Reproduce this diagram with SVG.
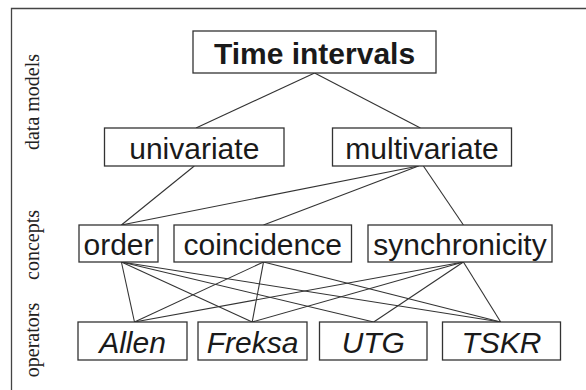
<svg xmlns="http://www.w3.org/2000/svg" width="586" height="390" viewBox="0 0 586 390">
  <style>
    .box { fill: #ffffff; stroke: #333333; stroke-width: 1.3; }
    .lbl { font-family: "Liberation Sans", Arial, sans-serif; font-size: 30px; fill: #1a1a1a; text-anchor: middle; }
    .title { font-weight: bold; }
    .op { font-style: italic; }
    .side { font-family: "Liberation Serif", "Times New Roman", serif; font-size: 20px; fill: #222222; text-anchor: middle; }
    .edge { stroke: #333333; stroke-width: 1.1; fill: none; }
    .frame { stroke: #444444; stroke-width: 1.3; fill: none; }
  </style>
  <rect width="586" height="390" fill="#ffffff"/>

  <!-- frame -->
  <path class="frame" d="M11.5 390 V8.5 H586"/>

  <!-- layer labels -->
  <g id="layer-labels">
    <text class="side" transform="translate(39 102) rotate(-90)">data models</text>
    <text class="side" transform="translate(39 245) rotate(-90)">concepts</text>
    <text class="side" transform="translate(39 340) rotate(-90)">operators</text>
  </g>

  <!-- connectors -->
  <g id="connectors">
    <line class="edge" x1="314.6" y1="73" x2="196" y2="128"/>
    <line class="edge" x1="314.6" y1="73" x2="420.4" y2="128"/>
    <line class="edge" x1="194.3" y1="166" x2="121.4" y2="225"/>
    <line class="edge" x1="418.5" y1="166" x2="121.4" y2="225"/>
    <line class="edge" x1="418.5" y1="166" x2="263.5" y2="225"/>
    <line class="edge" x1="423.4" y1="166" x2="463.4" y2="225"/>
    <!-- order -->
    <line class="edge" x1="121.4" y1="262" x2="134.5" y2="322"/>
    <line class="edge" x1="121.4" y1="262" x2="252.2" y2="322"/>
    <line class="edge" x1="121.4" y1="262" x2="373.7" y2="322"/>
    <line class="edge" x1="121.4" y1="262" x2="500.7" y2="322"/>
    <!-- coincidence -->
    <line class="edge" x1="263.5" y1="262" x2="134.5" y2="322"/>
    <line class="edge" x1="263.5" y1="262" x2="252.2" y2="322"/>
    <line class="edge" x1="263.5" y1="262" x2="500.7" y2="322"/>
    <!-- synchronicity -->
    <line class="edge" x1="463.4" y1="262" x2="134.5" y2="322"/>
    <line class="edge" x1="463.4" y1="262" x2="252.2" y2="322"/>
    <line class="edge" x1="463.4" y1="262" x2="373.7" y2="322"/>
    <line class="edge" x1="463.4" y1="262" x2="500.7" y2="322"/>
  </g>

  <!-- nodes -->
  <g id="time-intervals">
    <rect class="box" x="193" y="31" width="243" height="42"/>
    <text class="lbl title" x="314.5" y="64">Time intervals</text>
  </g>
  <g id="univariate">
    <rect class="box" x="104.5" y="128" width="179.5" height="38"/>
    <text class="lbl" x="194.3" y="159">univariate</text>
  </g>
  <g id="multivariate">
    <rect class="box" x="332.5" y="128" width="179" height="38"/>
    <text class="lbl" x="422" y="159">multivariate</text>
  </g>
  <g id="order">
    <rect class="box" x="79" y="225" width="79" height="37"/>
    <text class="lbl" x="118.5" y="255">order</text>
  </g>
  <g id="coincidence">
    <rect class="box" x="174" y="225" width="177.5" height="37"/>
    <text class="lbl" x="262.7" y="255">coincidence</text>
  </g>
  <g id="synchronicity">
    <rect class="box" x="368" y="225" width="184" height="37"/>
    <text class="lbl" x="460" y="255">synchronicity</text>
  </g>
  <g id="allen">
    <rect class="box" x="78" y="322" width="109" height="38"/>
    <text class="lbl op" x="132.5" y="353">Allen</text>
  </g>
  <g id="freksa">
    <rect class="box" x="198" y="322" width="109" height="38"/>
    <text class="lbl op" x="252.5" y="353">Freksa</text>
  </g>
  <g id="utg">
    <rect class="box" x="319.5" y="322" width="107.5" height="38"/>
    <text class="lbl op" x="373.3" y="353">UTG</text>
  </g>
  <g id="tskr">
    <rect class="box" x="442.5" y="322" width="118" height="38"/>
    <text class="lbl op" x="501.5" y="353">TSKR</text>
  </g>
</svg>
